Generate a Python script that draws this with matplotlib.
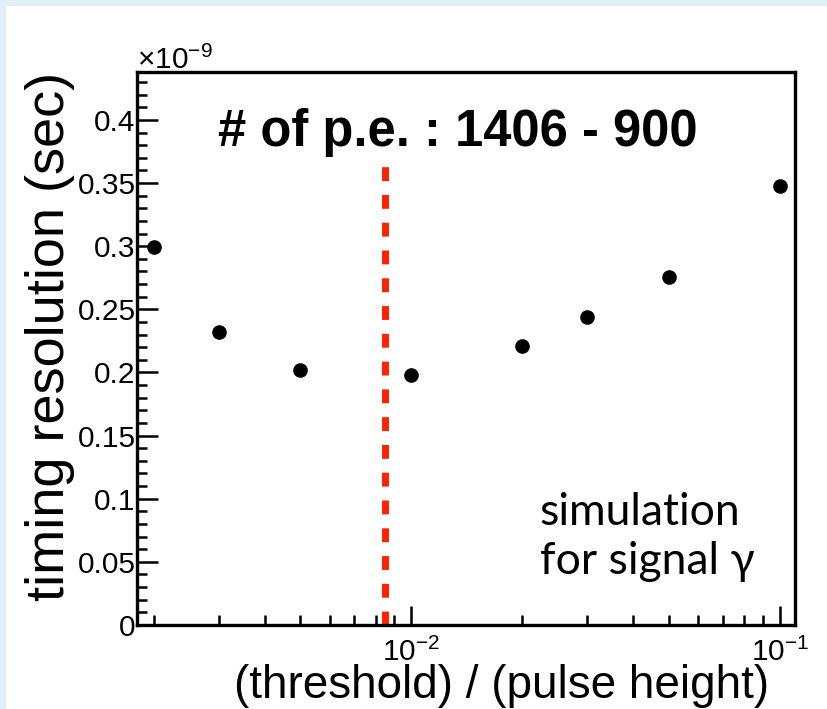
import numpy as np
import matplotlib
matplotlib.use('Agg')
import matplotlib.pyplot as plt
from matplotlib.patches import Rectangle
from matplotlib.ticker import FuncFormatter, LogLocator, MultipleLocator

plt.rcParams['font.family'] = ['Liberation Sans', 'DejaVu Sans']
plt.rcParams['mathtext.default'] = 'regular'

# threshold / pulse height, timing resolution (units of 1e-9 s)
threshold = [0.002, 0.003, 0.005, 0.01, 0.02, 0.03, 0.05, 0.1]
resolution = [0.299, 0.232, 0.202, 0.198, 0.221, 0.244, 0.276, 0.348]
cut_value = 0.0085
title_text = '# of p.e. : 1406 - 900'
note_text = 'simulation\nfor signal \u03b3'

W, H = 827, 709
fig = plt.figure(figsize=(W / 100, H / 100), dpi=100)
fig.patch.set_facecolor('#dfeef7')
# white panel inside the light blue border
fig.patches.append(Rectangle((6 / W, 0), 1, 1 - 6 / H, transform=fig.transFigure,
                             facecolor='white', edgecolor='none', zorder=-10))

ax = fig.add_axes([137 / W, 1 - 625 / H, (795 - 137) / W, (625 - 72) / H])
ax.set_facecolor('white')

ax.plot(threshold, resolution, 'o', color='black', markersize=9.5, zorder=3)
ax.plot([cut_value, cut_value], [0, 0.365], color='#ff2200', lw=5,
        dashes=(2, 2), solid_capstyle='butt', dash_capstyle='butt', zorder=2)

ax.set_xscale('log')
ax.set_xlim(0.0018, 0.11)
ax.set_ylim(0, 0.438)

ax.xaxis.set_major_locator(LogLocator(base=10))
ax.xaxis.set_minor_locator(LogLocator(base=10, subs=np.arange(2, 10)))
ax.yaxis.set_major_locator(MultipleLocator(0.05))
ax.yaxis.set_minor_locator(MultipleLocator(0.01))
ax.yaxis.set_major_formatter(FuncFormatter(lambda v, p: '%g' % round(v, 3)))

ax.tick_params(axis='both', which='both', direction='in', top=False, right=False,
               width=1.8, labelsize=21.5, color='black')
ax.tick_params(axis='y', which='major', length=15, pad=1)
ax.tick_params(axis='y', which='minor', length=7)
ax.tick_params(axis='x', which='major', length=14, pad=9)
ax.tick_params(axis='x', which='minor', length=7)
for s in ax.spines.values():
    s.set_linewidth(2.4)

ax.set_xlabel('(threshold) / (pulse height)', fontsize=33)
ax.xaxis.set_label_coords(0.96, -0.071)
ax.xaxis.label.set_ha('right')
ax.xaxis.label.set_va('top')
ax.set_ylabel('timing resolution (sec)', fontsize=39, rotation_mode='anchor')
ax.yaxis.set_label_coords(-0.132, 1.0)
ax.yaxis.label.set_ha('right')
ax.yaxis.label.set_va('center')

ax.text(0.0, 0.995, '\u00d710$^{-9}$', transform=ax.transAxes, fontsize=21.5,
        ha='left', va='bottom')
ax.text(0.488, 0.89, title_text, transform=ax.transAxes, fontsize=36.5,
        fontweight='bold', ha='center', va='center')
ax.text(0.612, 0.159, note_text, transform=ax.transAxes, fontsize=32,
        family=['Lato', 'DejaVu Sans'], ha='left', va='center', linespacing=1.22)

fig.savefig('out.png', dpi=100, facecolor=fig.get_facecolor())
